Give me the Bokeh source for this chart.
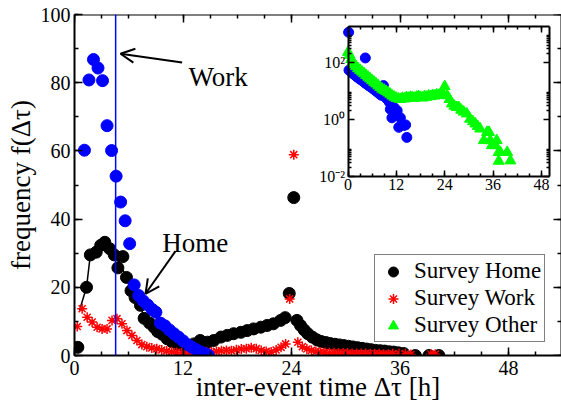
from bokeh.plotting import figure
from bokeh.models import (Range1d, LinearAxis, LogAxis, LogScale, SingleIntervalTicker,
                          FixedTicker, Span, Label, Arrow, OpenHead, Legend, LegendItem,
                          CustomJSTickFormatter)
from bokeh.embed import file_html
from bokeh.resources import INLINE

FONT = "Liberation Serif"

# ---------------- data ----------------
# main plot, blue circles (not in legend)
blue_x = [1.1, 1.6, 2.1, 2.6, 3.1, 3.6, 4.1, 4.6, 5.1, 5.6, 6.1, 6.6, 7.1, 7.6, 8.1, 8.6,
          9.0, 9.5, 10.0, 10.5, 11.0, 11.5, 12.0, 12.5, 13.0, 13.5, 14.0, 14.5, 14.8]
blue_y = [60.2, 80.8, 86.8, 84.3, 80.6, 67.4, 60.1, 52.6, 45.0, 39.5, 32.8, 20.7, 17.6, 16.0,
          14.8, 13.5, 12.7, 9.5, 8.7, 7.5, 6.4, 5.4, 4.3, 3.2, 2.4, 1.7, 1.0, 0.5, 0.1]
work_line_x = 4.55

# Survey Home (black circles)
home_x = [0.37, 1.33, 1.75, 2.4, 2.9, 3.35, 3.9, 4.4, 4.8, 5.35, 5.75, 6.25, 6.7, 7.3, 7.7,
          8.3, 8.8, 9.2, 9.7, 10.25, 10.8, 11.4, 12.0, 12.5, 13.2, 13.9, 14.7, 15.4, 16.2,
          16.9, 17.6, 18.4, 19.1, 19.8, 20.6, 21.3, 22.0, 22.8, 23.3, 23.75, 24.25, 24.6,
          25.0, 25.4, 25.8, 26.3, 26.8, 27.3, 27.8, 28.3, 28.8, 29.3, 29.8, 30.3, 30.8,
          31.3, 31.8, 32.3, 32.8, 33.3, 33.8, 34.3, 34.8, 35.3, 35.8, 36.4, 37.7, 39.2, 40.3]
home_y = [2.4, 20.0, 29.5, 30.3, 32.3, 33.2, 31.3, 29.5, 25.7, 29.0, 22.9, 19.0, 17.0, 14.7,
          10.9, 9.5, 8.3, 7.0, 6.2, 4.9, 4.0, 3.4, 2.9, 2.4, 3.4, 4.4, 3.9, 4.4, 5.4, 5.9,
          6.4, 6.8, 7.3, 7.8, 8.3, 8.8, 9.3, 10.3, 11.1, 18.2, 46.3, 10.3, 8.8, 7.5, 6.4,
          5.4, 4.6, 4.1, 3.8, 3.5, 3.3, 3.1, 2.9, 2.7, 2.5, 2.3, 2.1, 1.9, 1.7, 1.5, 1.4,
          1.3, 1.1, 1.0, 0.8, 0.6, 0.0, 0.0, 0.0]
# thin black curve through the early Home points
home_line_x = [0.55, 1.33, 1.75, 2.4, 2.9, 3.35, 3.9, 4.4, 5.0, 5.75, 6.25, 6.7, 7.3, 7.7,
               8.3, 8.8, 9.2, 9.7, 10.25]
home_line_y = [13.2, 20.0, 29.5, 30.3, 32.3, 33.2, 31.3, 29.5, 27.0, 22.9, 19.0, 17.0, 14.7,
               10.9, 9.5, 8.3, 7.0, 6.2, 4.9]

# Survey Work (red asterisks)
work_x = [0.3, 0.85, 1.4, 1.95, 2.5, 3.05, 3.6, 4.15, 4.7, 5.25, 5.8, 6.35, 6.9, 7.45, 8.0,
          8.55, 9.1, 9.65, 10.2, 10.75, 11.3, 11.85, 12.4, 12.95, 13.5, 14.05, 14.6, 15.15,
          15.7, 16.25, 16.8, 17.35, 17.9, 18.45, 19.0, 19.55, 20.1, 20.65, 21.2, 21.75,
          22.3, 22.85, 23.35, 23.8, 24.25, 24.7, 25.2, 25.7, 26.2, 26.7, 27.2, 27.7, 28.2,
          28.7, 29.2, 29.7, 30.2, 30.7, 31.2, 31.7, 32.2, 32.7, 33.2, 33.7, 34.2, 34.7,
          35.2, 35.9, 36.6, 37.2, 39.4, 39.9]
work_y = [8.5, 13.7, 11.2, 9.8, 8.3, 7.8, 7.8, 10.3, 10.8, 9.3, 7.3, 5.9, 4.4, 3.2, 2.6,
          2.2, 2.0, 1.6, 1.3, 1.1, 0.9, 0.8, 0.7, 0.8, 0.9, 1.0, 1.1, 1.0, 1.2, 1.4, 1.5,
          1.4, 1.7, 1.9, 2.0, 2.3, 2.0, 1.5, 1.2, 1.0, 1.6, 2.4, 3.4, 16.6, 58.9, 3.9, 2.6,
          1.9, 1.5, 1.2, 1.0, 0.9, 0.8, 0.8, 0.7, 0.7, 0.7, 0.6, 0.6, 0.6, 0.6, 0.5, 0.5,
          0.5, 0.4, 0.4, 0.5, 0.6, 0.5, 0.3, 0.4, 0.4]

# inset (log y): blue circles
inset_blue_x = [0.15, 4.3, 0.25, 0.75, 1.25, 1.75, 2.25, 2.75, 3.25, 3.75, 4.25, 4.75, 5.25,
                5.75, 6.25, 6.75, 7.25, 7.75, 8.25, 8.8, 9.25, 9.75, 10.25, 10.5, 10.9, 11.5,
                12.2, 12.6, 13.0, 13.8, 14.3, 14.6]
inset_blue_y = [1122, 141, 52.5, 45.7, 39.8, 34.7, 30.2, 26.9, 24.0, 21.4, 18.6, 16.6, 14.8,
                13.2, 11.7, 10.2, 9.1, 7.9, 6.9, 15.1, 6.0, 5.0, 4.0, 2.24, 1.12, 2.5, 2.0,
                0.52, 1.12, 0.6, 0.63, 0.23]
# inset: Survey Other (green triangles)
inset_other_x = [0.0, 0.4, 0.8, 1.2, 1.6, 2.0, 2.5, 3.0, 3.5, 4.0, 4.5, 5.0, 5.5, 6.0, 6.5,
                 7.0, 7.5, 8.0, 8.5, 9.0, 9.5, 10.0, 10.5, 11.0, 11.5, 12.0, 12.5, 13.0,
                 13.5, 14.0, 14.5, 15.0, 15.5, 16.0, 16.5, 17.0, 17.5, 18.0, 18.5, 19.0,
                 19.5, 20.0, 20.5, 21.0, 21.5, 22.0, 22.5, 23.0, 23.5, 24.0, 24.6, 25.2,
                 25.8, 26.4, 27.0, 27.5, 28.1, 28.7, 29.5, 30.3, 31.0, 31.6, 32.2, 32.8,
                 33.7, 34.5, 35.0, 35.3, 35.7, 36.6, 36.9, 37.4, 37.4, 37.8, 39.5, 40.3]
inset_other_y = [224, 178, 126, 100, 83, 71, 60, 52.5, 45.7, 39.8, 34.7, 30.2, 26.3, 22.9,
                 20.0, 17.4, 15.1, 13.2, 11.5, 10.5, 9.5, 8.5, 7.6, 6.6, 6.0, 5.5, 5.2, 5.0,
                 5.5, 5.2, 5.8, 5.5, 6.0, 5.8, 5.5, 6.0, 6.3, 5.9, 5.6, 6.3, 6.0, 6.6, 6.3,
                 6.9, 6.6, 7.2, 6.9, 7.4, 7.9, 14.1, 6.8, 5.0, 3.5, 2.9, 2.6, 2.6, 2.1, 1.8,
                 1.55, 1.02, 0.83, 0.69, 0.56, 0.46, 0.18, 0.35, 0.35, 0.18, 0.12, 0.12, 0.18,
                 0.069, 0.034, 0.069, 0.069, 0.035]

x_ticks_interval = 12
y_ticks_interval = 20
inset_x_bounds = (0, 50)
inset_y_bounds = (0.01, 10 ** 3.253)
inset_y_ticks = [0.01, 1.0, 100.0]
inset_y_labels = ["10\u207b\u00b2", "10\u2070", "10\u00b2"]
inset_y_minor = [k * 10.0 ** n for n in (-2, 0, 2) for k in range(2, 10)]

# ---------------- figure ----------------
X_END = 53.86
p = figure(width=561, height=404, output_backend="svg", toolbar_location=None,
           x_range=Range1d(0, X_END), y_range=Range1d(0, 100),
           min_border_left=74, min_border_right=0, min_border_top=14, min_border_bottom=49,
           background_fill_color="white", border_fill_color="white",
           outline_line_color=None)
p.xgrid.visible = False
p.ygrid.visible = False

# inset coordinate systems
p.extra_x_ranges = {"ix": Range1d(-67.87, 52.98)}
p.extra_y_ranges = {"iy": Range1d(10 ** -8.291, 10 ** 3.674)}
p.extra_y_scales = {"iy": LogScale()}

blank = CustomJSTickFormatter(code="return ''")


def style_axis(ax, tin=8, tmin=4, lw=2):
    ax.axis_line_width = lw
    ax.axis_line_color = "black"
    ax.major_tick_line_width = 1.5
    ax.minor_tick_line_width = 1.5
    ax.major_tick_line_color = "black"
    ax.minor_tick_line_color = "black"
    ax.major_tick_in = tin
    ax.major_tick_out = 0
    ax.minor_tick_in = tmin
    ax.minor_tick_out = 0
    ax.major_label_text_font = FONT
    ax.axis_label_text_font = FONT
    ax.axis_label_text_font_style = "normal"
    ax.major_label_text_color = "black"
    ax.axis_label_text_color = "black"


xax = p.xaxis[0]
xax.ticker = SingleIntervalTicker(interval=x_ticks_interval, num_minor_ticks=4)
style_axis(xax)
xax.major_label_text_font_size = "20px"
xax.major_label_standoff = 5
xax.axis_label = "inter-event time \u0394\u03c4 [h]"
xax.axis_label_text_font_size = "27px"
xax.axis_label_standoff = -6

yax = p.yaxis[0]
yax.ticker = SingleIntervalTicker(interval=y_ticks_interval, num_minor_ticks=2)
style_axis(yax)
yax.major_label_text_font_size = "20px"
yax.major_label_standoff = 4
yax.axis_label = "frequency f(\u0394\u03c4)"
yax.axis_label_text_font_size = "27px"
yax.axis_label_standoff = 2

top = LinearAxis(fixed_location=100, formatter=blank,
                 ticker=SingleIntervalTicker(interval=x_ticks_interval, num_minor_ticks=4))
style_axis(top)
p.add_layout(top, "above")
right = LinearAxis(fixed_location=X_END, formatter=blank,
                   ticker=SingleIntervalTicker(interval=y_ticks_interval, num_minor_ticks=2))
style_axis(right)
p.add_layout(right, "right")

# ---------------- main glyphs ----------------
p.add_layout(Span(location=work_line_x, dimension="height", line_color="blue",
                  line_width=1.5))
p.line(home_line_x, home_line_y, line_color="black", line_width=1.5)
r_home = p.scatter(home_x, home_y, marker="circle", size=12, fill_color="black",
                   line_color="black")
r_work = p.scatter(work_x, work_y, marker="asterisk", size=10, line_color="red",
                   line_width=1.5)
p.scatter(blue_x, blue_y, marker="circle", size=12, fill_color="blue", line_color="blue")

# ---------------- inset ----------------
p.scatter(inset_blue_x, inset_blue_y, marker="circle", size=10, fill_color="blue",
          line_color="blue", x_range_name="ix", y_range_name="iy")
r_other = p.scatter(inset_other_x, inset_other_y, marker="triangle", size=11,
                    fill_color="#00ff00", line_color="#00ff00",
                    x_range_name="ix", y_range_name="iy")

ib = LinearAxis(x_range_name="ix", y_range_name="iy", fixed_location=inset_y_bounds[0],
                bounds=inset_x_bounds,
                ticker=SingleIntervalTicker(interval=12, num_minor_ticks=4))
style_axis(ib, 6, 3)
ib.major_label_text_font_size = "16px"
ib.major_label_standoff = 3
p.add_layout(ib, "below")

it = LinearAxis(x_range_name="ix", y_range_name="iy", fixed_location=inset_y_bounds[1],
                bounds=inset_x_bounds, formatter=blank,
                ticker=SingleIntervalTicker(interval=12, num_minor_ticks=4))
style_axis(it, 6, 3)
p.add_layout(it, "above")

il = LogAxis(x_range_name="ix", y_range_name="iy", fixed_location=inset_x_bounds[0],
             bounds=inset_y_bounds,
             ticker=FixedTicker(ticks=inset_y_ticks, minor_ticks=inset_y_minor),
             major_label_overrides=dict(zip(inset_y_ticks, inset_y_labels)))
style_axis(il, 6, 3)
il.major_label_text_font_size = "16px"
il.major_label_standoff = 3
p.add_layout(il, "left")

ir = LogAxis(x_range_name="ix", y_range_name="iy", fixed_location=inset_x_bounds[1],
             bounds=inset_y_bounds, formatter=blank,
             ticker=FixedTicker(ticks=inset_y_ticks, minor_ticks=inset_y_minor))
style_axis(ir, 6, 3)
p.add_layout(ir, "right")

# ---------------- annotations ----------------
p.add_layout(Arrow(end=OpenHead(size=14, line_width=2, line_color="black"),
                   x_start=11.9, y_start=85.9, x_end=5.09, y_end=88.5,
                   line_width=2, line_color="black"))
p.add_layout(Label(x=12.6, y=81.8, text="Work", text_font=FONT, text_font_size="27px",
                   text_baseline="alphabetic", text_color="black"))
p.add_layout(Arrow(end=OpenHead(size=14, line_width=2, line_color="black"),
                   x_start=11.17, y_start=30.6, x_end=7.85, y_end=18.1,
                   line_width=2, line_color="black"))
p.add_layout(Label(x=9.7, y=32.9, text="Home", text_font=FONT, text_font_size="27px",
                   text_baseline="alphabetic", text_color="black"))

legend = Legend(items=[LegendItem(label="Survey Home", renderers=[r_home]),
                       LegendItem(label="Survey Work", renderers=[r_work]),
                       LegendItem(label="Survey Other", renderers=[r_other])],
                location=(300, 13), margin=0, padding=3, spacing=1,
                glyph_width=30, glyph_height=25, label_height=25, label_standoff=6,
                label_text_font=FONT, label_text_font_size="23px",
                label_text_color="black",
                border_line_color="black", border_line_width=1.5,
                background_fill_color="white", background_fill_alpha=1.0)
p.add_layout(legend)

open("out.html", "w").write(file_html(p, INLINE))
